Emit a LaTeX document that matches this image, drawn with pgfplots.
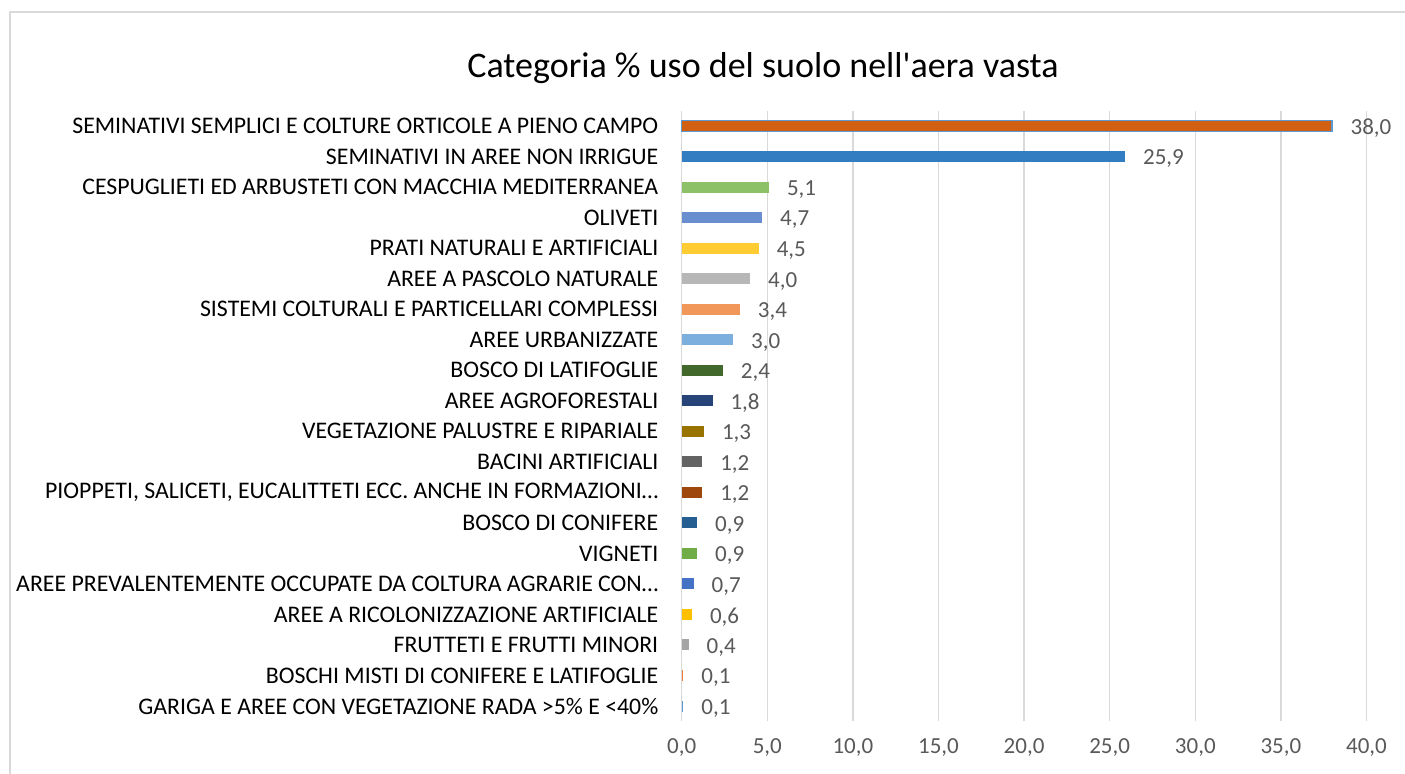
\documentclass[border=0pt]{standalone}
\usepackage{fontspec}
\setmainfont{Carlito}
\usepackage{pgfplots}
\pgfplotsset{compat=1.18}
\definecolor{c0}{HTML}{5B9BD5}
\definecolor{c1}{HTML}{ED7D31}
\definecolor{c2}{HTML}{A5A5A5}
\definecolor{c3}{HTML}{FFC000}
\definecolor{c4}{HTML}{4472C4}
\definecolor{c5}{HTML}{70AD47}
\definecolor{c6}{HTML}{255E91}
\definecolor{c7}{HTML}{9E480E}
\definecolor{c8}{HTML}{636363}
\definecolor{c9}{HTML}{997300}
\definecolor{c10}{HTML}{264478}
\definecolor{c11}{HTML}{43682B}
\definecolor{c12}{HTML}{7CAFDD}
\definecolor{c13}{HTML}{F1975A}
\definecolor{c14}{HTML}{B7B7B7}
\definecolor{c15}{HTML}{FFCD33}
\definecolor{c16}{HTML}{698ED0}
\definecolor{c17}{HTML}{8CC168}
\definecolor{c18}{HTML}{327DC2}
\definecolor{c19}{HTML}{D26012}
\definecolor{lbl}{HTML}{595959}
\definecolor{grd}{HTML}{D9D9D9}
\begin{document}
\begin{tikzpicture}
\useasboundingbox (0,0) rectangle (702.5pt,386.5pt);
\draw[grd, line width=0.75pt] (5pt,-2pt) -- (5pt,380.5pt) -- (705pt,380.5pt);
\node[font=\fontsize{18}{21}\selectfont, text=black] at (381.5pt,352.5pt) {Categoria \% uso del suolo nell\textquotesingle aera vasta};
\begin{axis}[
  at={(340.85pt,25.85pt)}, anchor=south west,
  scale only axis, width=342.4pt, height=305.25pt,
  xbar, bar shift=0pt, bar width=5.5pt,
  xmin=0, xmax=40, ymin=-0.5, ymax=19.5,
  xtick={0,5,...,40},
  ytick={0,...,19},
  yticklabels={
    GARIGA E AREE CON VEGETAZIONE RADA >5\% E <40\%,
    BOSCHI MISTI DI CONIFERE E LATIFOGLIE,
    FRUTTETI E FRUTTI MINORI,
    AREE A RICOLONIZZAZIONE ARTIFICIALE,
    AREE PREVALENTEMENTE OCCUPATE DA COLTURA AGRARIE CON…,
    VIGNETI,
    BOSCO DI CONIFERE,
    {PIOPPETI, SALICETI, EUCALITTETI ECC. ANCHE IN FORMAZIONI…},
    BACINI ARTIFICIALI,
    VEGETAZIONE PALUSTRE E RIPARIALE,
    AREE AGROFORESTALI\hspace{3pt},
    BOSCO DI LATIFOGLIE,
    AREE URBANIZZATE,
    SISTEMI COLTURALI E PARTICELLARI COMPLESSI,
    AREE A PASCOLO NATURALE,
    PRATI NATURALI E ARTIFICIALI,
    OLIVETI,
    CESPUGLIETI ED ARBUSTETI CON MACCHIA MEDITERRANEA,
    SEMINATIVI IN AREE NON IRRIGUE,
    SEMINATIVI SEMPLICI E COLTURE ORTICOLE A PIENO CAMPO},
  yticklabel style={font=\fontsize{11.9}{13}\selectfont, text=black, inner sep=0pt, anchor=east, xshift=-11.5pt},
  xticklabel style={font=\fontsize{11.5}{13}\selectfont, text=lbl, yshift=-5pt},
  /pgf/number format/.cd, fixed, fixed zerofill, precision=1, use comma, assume math mode=true,
  /pgfplots/.cd,
  xmajorgrids, major grid style={grd, line width=0.75pt},
  axis line style={draw=none}, major tick length=0pt,
  nodes near coords,
  nodes near coords align={horizontal},
  every node near coord/.append style={font=\fontsize{11.5}{13}\selectfont, text=lbl, anchor=west, xshift=5.5pt, yshift=-1.2pt,
    /pgf/number format/.cd, fixed, fixed zerofill, precision=1, use comma, assume math mode=true},
  clip=false,
]
\addplot[fill=c0, draw=none] coordinates {(0.1,0)};
\addplot[fill=c1, draw=none] coordinates {(0.1,1)};
\addplot[fill=c2, draw=none] coordinates {(0.4,2)};
\addplot[fill=c3, draw=none] coordinates {(0.6,3)};
\addplot[fill=c4, draw=none] coordinates {(0.7,4)};
\addplot[fill=c5, draw=none] coordinates {(0.9,5)};
\addplot[fill=c6, draw=none] coordinates {(0.9,6)};
\addplot[fill=c7, draw=none] coordinates {(1.2,7)};
\addplot[fill=c8, draw=none] coordinates {(1.2,8)};
\addplot[fill=c9, draw=none] coordinates {(1.3,9)};
\addplot[fill=c10, draw=none] coordinates {(1.8,10)};
\addplot[fill=c11, draw=none] coordinates {(2.4,11)};
\addplot[fill=c12, draw=none] coordinates {(3.0,12)};
\addplot[fill=c13, draw=none] coordinates {(3.4,13)};
\addplot[fill=c14, draw=none] coordinates {(4.0,14)};
\addplot[fill=c15, draw=none] coordinates {(4.5,15)};
\addplot[fill=c16, draw=none] coordinates {(4.7,16)};
\addplot[fill=c17, draw=none] coordinates {(5.1,17)};
\addplot[fill=c18, draw=none] coordinates {(25.9,18)};
\addplot[fill=c19, draw=c0, line width=0.75pt] coordinates {(38.0,19)};
\end{axis}
\end{tikzpicture}
\end{document}
